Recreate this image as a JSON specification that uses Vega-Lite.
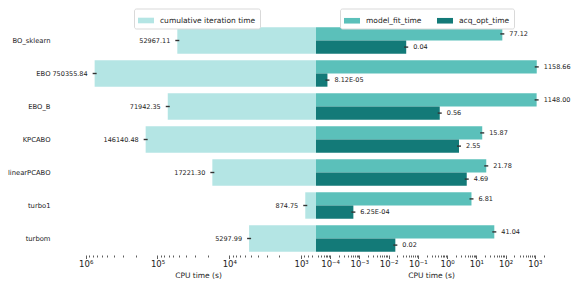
{
  "$schema": "https://vega.github.io/schema/vega-lite/v6.json",
  "padding": {"left": 0, "top": 8, "right": 5, "bottom": 5},
  "config": {"font": "DejaVu Sans", "view": {"stroke": null}},
  "spacing": 0,
  "datasets": {
    "cum": [
      {"method": "BO_sklearn", "series": "cumulative iteration time", "value": 52967.11, "label": "52967.11"},
      {"method": "EBO", "series": "cumulative iteration time", "value": 750355.84, "label": "750355.84"},
      {"method": "EBO_B", "series": "cumulative iteration time", "value": 71942.35, "label": "71942.35"},
      {"method": "KPCABO", "series": "cumulative iteration time", "value": 146140.48, "label": "146140.48"},
      {"method": "linearPCABO", "series": "cumulative iteration time", "value": 17221.30, "label": "17221.30"},
      {"method": "turbo1", "series": "cumulative iteration time", "value": 874.75, "label": "874.75"},
      {"method": "turbom", "series": "cumulative iteration time", "value": 5297.99, "label": "5297.99"}
    ],
    "parts": [
      {"method": "BO_sklearn", "series": "model_fit_time", "value": 77.12, "label": "77.12"},
      {"method": "BO_sklearn", "series": "acq_opt_time", "value": 0.04, "label": "0.04"},
      {"method": "EBO", "series": "model_fit_time", "value": 1158.66, "label": "1158.66"},
      {"method": "EBO", "series": "acq_opt_time", "value": 0.0000812, "label": "8.12E-05"},
      {"method": "EBO_B", "series": "model_fit_time", "value": 1148.00, "label": "1148.00"},
      {"method": "EBO_B", "series": "acq_opt_time", "value": 0.56, "label": "0.56"},
      {"method": "KPCABO", "series": "model_fit_time", "value": 15.87, "label": "15.87"},
      {"method": "KPCABO", "series": "acq_opt_time", "value": 2.55, "label": "2.55"},
      {"method": "linearPCABO", "series": "model_fit_time", "value": 21.78, "label": "21.78"},
      {"method": "linearPCABO", "series": "acq_opt_time", "value": 4.69, "label": "4.69"},
      {"method": "turbo1", "series": "model_fit_time", "value": 6.81, "label": "6.81"},
      {"method": "turbo1", "series": "acq_opt_time", "value": 0.000625, "label": "6.25E-04"},
      {"method": "turbom", "series": "model_fit_time", "value": 41.04, "label": "41.04"},
      {"method": "turbom", "series": "acq_opt_time", "value": 0.017, "label": "0.02"}
    ]
  },
  "hconcat": [
    {
      "width": 236,
      "height": 231,
      "data": {"name": "cum"},
      "encoding": {
        "y": {
          "field": "method", "type": "nominal", "sort": null,
          "scale": {"paddingInner": 0.2, "paddingOuter": 0.1},
          "axis": {"title": null, "ticks": false, "tickSize": 0, "domain": false, "labelPadding": 30, "labelFontSize": 6.8, "labelColor": "#222", "minExtent": 80, "maxExtent": 80}
        },
        "x": {
          "field": "value", "type": "quantitative",
          "scale": {"type": "log", "domain": [620, 1200000], "reverse": true, "nice": false},
          "axis": {
            "title": "CPU time (s)", "titleFontSize": 7.5, "titleFontWeight": "normal", "titleColor": "#222", "titlePadding": 3,
            "grid": false, "domain": false,
            "values": [700, 800, 900, 1000, 2000, 3000, 4000, 5000, 6000, 7000, 8000, 9000, 10000, 20000, 30000, 40000, 50000, 60000, 70000, 80000, 90000, 100000, 200000, 300000, 400000, 500000, 600000, 700000, 800000, 900000, 1000000],
            "labelExpr": "abs(log(datum.value)/LN10 - round(log(datum.value)/LN10)) < 1e-6 ? '10' + replace(replace(replace(replace(replace(replace(replace(replace('' + round(log(datum.value)/LN10), '-', '⁻'), '0', '⁰'), '1', '¹'), '2', '²'), '3', '³'), '4', '⁴'), '5', '⁵'), '6', '⁶') : ''",
            "labelOverlap": false, "labelFlush": false, "labelBound": false,
            "labelFontSize": 8.5, "labelColor": "#222", "labelPadding": 1,
            "tickColor": "#333", "tickWidth": 0.8,
            "tickSize": {"condition": {"test": "abs(log(datum.value)/LN10 - round(log(datum.value)/LN10)) < 1e-6", "value": 3.5}, "value": 2}
          }
        }
      },
      "layer": [
        {
          "mark": {"type": "bar"},
          "encoding": {
            "x2": {"datum": 620},
            "color": {
              "field": "series", "type": "nominal",
              "scale": {"domain": ["cumulative iteration time"], "range": ["#b4e5e4"]},
              "legend": {"orient": "none", "legendX": 54, "legendY": -15.5, "title": null, "direction": "horizontal",
                "symbolType": "M-1,-0.35H1V0.35H-1Z", "symbolSize": 256, "symbolStrokeWidth": 0, "symbolOpacity": 1,
                "labelFontSize": 7.5, "labelColor": "#222", "labelOffset": 6, "strokeColor": "#d9d9d9", "cornerRadius": 2, "padding": 4, "fillColor": "white"}
            }
          }
        },
        {
          "mark": {"type": "point", "shape": "M-1,-0.35H1V0.35H-1Z", "filled": true, "size": 16, "color": "#333", "opacity": 1},
          "encoding": {}
        },
        {
          "mark": {"type": "text", "align": "right", "baseline": "middle", "dx": -7, "fontSize": 6.5, "color": "#222"},
          "encoding": {"text": {"field": "label"}}
        }
      ]
    },
    {
      "width": 230,
      "height": 231,
      "data": {"name": "parts"},
      "encoding": {
        "y": {
          "field": "method", "type": "nominal", "sort": null,
          "scale": {"paddingInner": 0.2, "paddingOuter": 0.1},
          "axis": null
        },
        "yOffset": {"field": "series", "type": "nominal", "sort": null, "scale": {"domain": ["model_fit_time", "acq_opt_time"], "paddingInner": 0, "paddingOuter": 0}},
        "x": {
          "field": "value", "type": "quantitative",
          "scale": {"type": "log", "domain": [0.000033, 2400], "nice": false},
          "axis": {
            "title": "CPU time (s)", "titleFontSize": 7.5, "titleFontWeight": "normal", "titleColor": "#222", "titlePadding": 3,
            "grid": false, "domain": false,
            "values": [0.00004, 0.00005, 0.00006, 0.00007, 0.00008, 0.00009, 0.0001, 0.0002, 0.0003, 0.0004, 0.0005, 0.0006, 0.0007, 0.0008, 0.0009, 0.001, 0.002, 0.003, 0.004, 0.005, 0.006, 0.007, 0.008, 0.009, 0.01, 0.02, 0.03, 0.04, 0.05, 0.06, 0.07, 0.08, 0.09, 0.1, 0.2, 0.3, 0.4, 0.5, 0.6, 0.7, 0.8, 0.9, 1, 2, 3, 4, 5, 6, 7, 8, 9, 10, 20, 30, 40, 50, 60, 70, 80, 90, 100, 200, 300, 400, 500, 600, 700, 800, 900, 1000, 2000],
            "labelExpr": "abs(log(datum.value)/LN10 - round(log(datum.value)/LN10)) < 1e-6 ? '10' + replace(replace(replace(replace(replace(replace(replace(replace('' + round(log(datum.value)/LN10), '-', '⁻'), '0', '⁰'), '1', '¹'), '2', '²'), '3', '³'), '4', '⁴'), '5', '⁵'), '6', '⁶') : ''",
            "labelOverlap": false, "labelFlush": false, "labelBound": false,
            "labelFontSize": 8.5, "labelColor": "#222", "labelPadding": 1,
            "tickColor": "#333", "tickWidth": 0.8,
            "tickSize": {"condition": {"test": "abs(log(datum.value)/LN10 - round(log(datum.value)/LN10)) < 1e-6", "value": 3.5}, "value": 2}
          }
        }
      },
      "layer": [
        {
          "mark": {"type": "bar"},
          "encoding": {
            "x2": {"datum": 0.000033},
            "color": {
              "field": "series", "type": "nominal",
              "scale": {"domain": ["model_fit_time", "acq_opt_time"], "range": ["#5bc0ba", "#137a78"]},
              "legend": {"orient": "none", "legendX": 24, "legendY": -15.5, "title": null, "direction": "horizontal",
                "symbolType": "M-1,-0.35H1V0.35H-1Z", "symbolSize": 256, "symbolStrokeWidth": 0, "symbolOpacity": 1,
                "labelFontSize": 7.5, "labelColor": "#222", "labelOffset": 6, "columnPadding": 15, "strokeColor": "#d9d9d9", "cornerRadius": 2, "padding": 4, "fillColor": "white"}
            }
          }
        },
        {
          "mark": {"type": "point", "shape": "M-1,-0.35H1V0.35H-1Z", "filled": true, "size": 16, "color": "#333", "opacity": 1},
          "encoding": {}
        },
        {
          "mark": {"type": "text", "align": "left", "baseline": "middle", "dx": 7, "fontSize": 6.5, "color": "#222"},
          "encoding": {"text": {"field": "label"}}
        }
      ]
    }
  ],
  "resolve": {"scale": {"color": "independent", "y": "independent", "x": "independent"}, "legend": {"color": "independent"}}
}
